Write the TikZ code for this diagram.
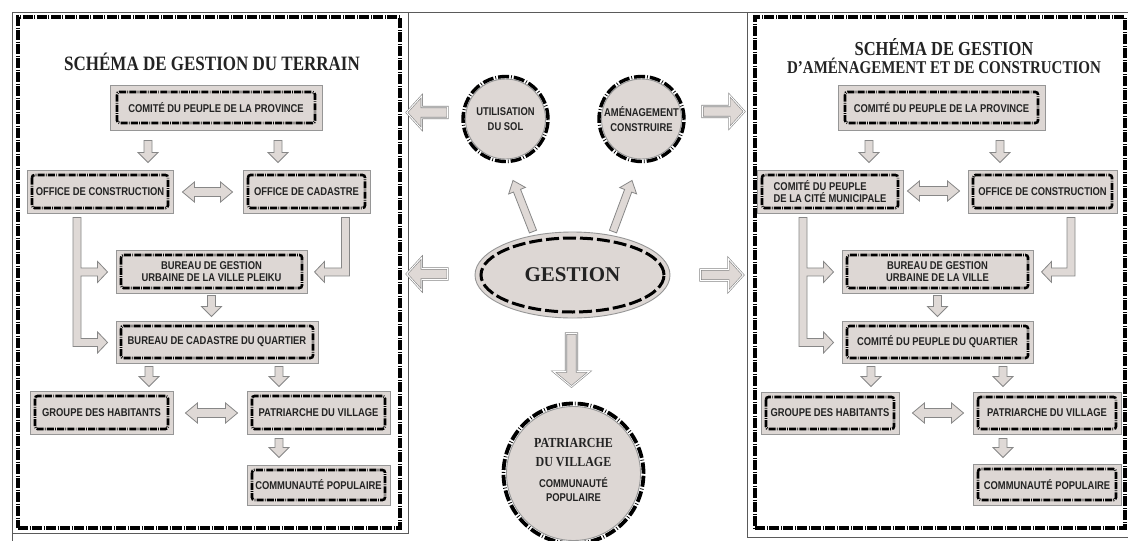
\documentclass[tikz,border=0pt]{standalone}
\usepackage{fontspec}
\setmainfont{Liberation Serif}
\newfontfamily\sansf{Liberation Sans}
\usetikzlibrary{calc,shapes.geometric}
\definecolor{boxfill}{RGB}{221,215,212}
\definecolor{arrfill}{RGB}{223,217,214}
\definecolor{bordgray}{RGB}{150,150,150}
\definecolor{arrgray}{RGB}{135,135,135}
\definecolor{txt}{RGB}{35,35,35}
\definecolor{linegray}{RGB}{90,90,90}
\newcommand\vs[1]{\scalebox{1}[1.2]{#1}}
\newcommand\vt[1]{\scalebox{1}[1.15]{#1}}
\newcommand\bxfont{\sansf\bfseries\fontsize{9.4}{11.5}\selectfont}
\tikzset{
  boxinset/.store in=\bxin, boxinset=5pt,
  innerdash/.style={draw=black, line width=2.6pt, dash pattern=on 7pt off 1.3pt on 0.7pt off 1.3pt, rounded corners=2.5pt},
  box/.style={draw=bordgray, line width=0.9pt, fill=boxfill, inner sep=0pt, text=txt, font=\bxfont, align=center,
    path picture={\draw[innerdash] ([shift={(\bxin,-\bxin)}]path picture bounding box.north west) rectangle ([shift={(-\bxin,\bxin)}]path picture bounding box.south east);}},
  frame/.style={draw=black, line width=3.4pt, dash pattern=on 10pt off 1.5pt on 1pt off 1.5pt, inner sep=0pt},
  thinline/.style={draw=linegray, line width=0.9pt},
  ttl/.style={text=txt, font=\bfseries\fontsize{17}{18}\selectfont, align=center, inner sep=0pt},
  circ/.style={circle, draw=bordgray, line width=0.9pt, fill=boxfill, inner sep=0pt, align=center, text=txt, font=\sansf\bfseries\fontsize{9.4}{14.5}\selectfont},
  ring/.style={draw=black, line width=3.4pt, dash pattern=on 11pt off 2pt on 0.8pt off 2pt},
  ellring/.style={draw=black, line width=3pt, dash pattern=on 13pt off 4pt},
  arr/.style={fill=arrfill, draw=arrgray, line width=0.8pt, line join=miter},
  bigarr/.style={fill=arrfill, draw=arrgray, line width=0.6pt, double=white, double distance=0.9pt},
  lbl/.style={text=txt, inner sep=0pt}
}
% single block arrow: [style]{start}{tip}{shaft half}{head half}{head length}
\newcommand\farrow[6][]{%
  \coordinate (fA) at #2;
  \coordinate (fB) at #3;
  \coordinate (fC) at ($(fB)!#6!(fA)$);
  \filldraw[arr,#1] ($(fA)!#4!90:(fB)$) -- ($(fC)!#4!90:(fB)$) -- ($(fC)!#5!90:(fB)$) -- (fB) -- ($(fC)!#5!-90:(fB)$) -- ($(fC)!#4!-90:(fB)$) -- ($(fA)!#4!-90:(fB)$) -- cycle;}
% double block arrow
\newcommand\fdarrow[6][]{%
  \coordinate (fA) at #2;
  \coordinate (fB) at #3;
  \coordinate (fC) at ($(fA)!#6!(fB)$);
  \coordinate (fD) at ($(fB)!#6!(fA)$);
  \filldraw[arr,#1] (fA) -- ($(fC)!#5!90:(fB)$) -- ($(fC)!#4!90:(fB)$) -- ($(fD)!#4!90:(fB)$) -- ($(fD)!#5!90:(fB)$) -- (fB) -- ($(fD)!#5!-90:(fB)$) -- ($(fD)!#4!-90:(fB)$) -- ($(fC)!#4!-90:(fB)$) -- ($(fC)!#5!-90:(fB)$) -- cycle;}
\begin{document}
\begin{tikzpicture}[x=1pt, y=-1pt]
\useasboundingbox (0,0) rectangle (1128,541);
\fill[white] (0,0) rectangle (1128,541);
% thin outer lines
\draw[thinline] (12,541) -- (12,12) -- (1128,12);
\draw[thinline] (12,533) -- (408,533) -- (408,12);
\draw[thinline] (747,12) -- (747,537) -- (1128,537);
% panel frames
\node[frame, minimum width=382pt, minimum height=511pt] (lp) at (209,272.5) {};
\node[frame, minimum width=370pt, minimum height=511pt] (rp) at (940,272.5) {};

% ---------- left panel ----------
\node[ttl] (t1) at (212,62) {\vs{SCHÉMA DE GESTION DU TERRAIN}};
\node[box, boxinset=7pt, minimum width=212pt, minimum height=45pt] (prov1) at (216,107.5) {\vs{COMITÉ DU PEUPLE DE LA PROVINCE}};
\node[box, minimum width=146pt, minimum height=43pt] (oc1) at (100,191.5) {\vs{OFFICE DE CONSTRUCTION}};
\node[box, minimum width=127pt, minimum height=43pt] (ocad1) at (306.5,191.5) {\vs{OFFICE DE CADASTRE}};
\node[box, minimum width=191pt, minimum height=43pt] (bg1) at (211.5,271.5) {\vs{BUREAU DE GESTION}\\\vs{URBAINE DE LA VILLE PLEIKU}};
\node[box, minimum width=202pt, minimum height=42pt] (bc1) at (217,342) {\vs{BUREAU DE CADASTRE DU QUARTIER}};
\node[box, minimum width=143pt, minimum height=43pt] (gh1) at (101.5,412.5) {\vs{GROUPE DES HABITANTS}};
\node[box, minimum width=143pt, minimum height=43pt] (pv1) at (318.5,412.5) {\vs{PATRIARCHE DU VILLAGE}};
\node[box, minimum width=143pt, minimum height=40pt] (cp1) at (318.5,485) {\vs{COMMUNAUTÉ POPULAIRE}};

\farrow{($(prov1.south)+(-68,10)$)}{($(oc1.north)+(48,-7)$)}{4pt}{10pt}{10pt}
\farrow{($(prov1.south)+(62,10)$)}{($(ocad1.north)+(-28.5,-7)$)}{4pt}{10pt}{10pt}
\fdarrow{($(oc1.east)+(9,0.5)$)}{($(ocad1.west)+(-10,0.5)$)}{4.5pt}{10pt}{12pt}
\farrow{($(bg1.south)+(0,2)$)}{($(bc1.north)+(-5.5,-4)$)}{4pt}{10pt}{10pt}
\farrow{($(bc1.south)+(-68,3)$)}{($(gh1.north)+(47.5,-4)$)}{4pt}{10pt}{10pt}
\farrow{($(bc1.south)+(62,3)$)}{($(pv1.north)+(-39.5,-4)$)}{4pt}{10pt}{10pt}
\fdarrow{($(gh1.east)+(12,0.5)$)}{($(pv1.west)+(-9,0.5)$)}{4.5pt}{10pt}{12pt}
\farrow{($(pv1.south)+(-39.5,4)$)}{($(cp1.north)+(-39.5,-7)$)}{4pt}{10pt}{10pt}
% L-shaped arrows
\filldraw[arr] ($(oc1.south west)+(46.5,4)$) -- ++(8,0) -- ++(0,50.5) -- ++(16.5,0) -- ++(0,-6.5) -- ++(10,10.5) -- ++(-10,10.5) -- ++(0,-6.5) -- ++(-16.5,0) -- ++(0,62.5) -- ++(16.5,0) -- ++(0,-6.5) -- ++(10,10.5) -- ++(-10,10.5) -- ++(0,-6.5) -- ++(-24.5,0) -- cycle;
\filldraw[arr] ($(ocad1.south west)+(99,4)$) -- ++(8,0) -- ++(0,58.5) -- ++(-25,0) -- ++(0,6.5) -- ++(-10,-10.5) -- ++(10,-10.5) -- ++(0,6.5) -- ++(17,0) -- cycle;

% ---------- right panel ----------
\node[ttl] (t2) at (944,56) {\fontsize{16.5}{18}\selectfont\vs{SCHÉMA DE GESTION}\\\fontsize{15}{18}\selectfont\vs{D'AMÉNAGEMENT ET DE CONSTRUCTION}};
\node[box, boxinset=7pt, minimum width=207pt, minimum height=45pt] (prov2) at (941.5,107.5) {\vs{COMITÉ DU PEUPLE DE LA PROVINCE}};
\node[box, minimum width=146pt, minimum height=43pt, align=left] (cm2) at (830,191.5) {\vs{COMITÉ DU PEUPLE}\\\vs{DE LA CITÉ MUNICIPALE}};
\node[box, minimum width=149pt, minimum height=43pt] (oc2) at (1042.5,191.5) {\vs{OFFICE DE CONSTRUCTION}};
\node[box, minimum width=191pt, minimum height=43pt] (bg2) at (937.5,271.5) {\vs{BUREAU DE GESTION}\\\vs{URBAINE DE LA VILLE}};
\node[box, minimum width=191pt, minimum height=42pt] (cq2) at (937.5,342) {\vs{COMITÉ DU PEUPLE DU QUARTIER}};
\node[box, minimum width=138pt, minimum height=42pt] (gh2) at (830,413) {\vs{GROUPE DES HABITANTS}};
\node[box, minimum width=148pt, minimum height=42pt] (pv2) at (1047,413) {\vs{PATRIARCHE DU VILLAGE}};
\node[box, minimum width=148pt, minimum height=41pt] (cp2) at (1047,484.5) {\vs{COMMUNAUTÉ POPULAIRE}};

\farrow{($(prov2.south)+(-72.5,10)$)}{($(cm2.north)+(39,-7)$)}{4pt}{10pt}{10pt}
\farrow{($(prov2.south)+(58.5,10)$)}{($(oc2.north)+(-42.5,-7)$)}{4pt}{10pt}{10pt}
\fdarrow{($(cm2.east)+(4,-0.5)$)}{($(oc2.west)+(-8,-0.5)$)}{4.5pt}{10pt}{12pt}
\farrow{($(bg2.south)+(0,2)$)}{($(cq2.north)+(0,-4)$)}{4pt}{10pt}{10pt}
\farrow{($(cq2.south)+(-66.5,3)$)}{($(gh2.north)+(41,-5)$)}{4pt}{10pt}{10pt}
\farrow{($(cq2.south)+(65.5,3)$)}{($(pv2.north)+(-44,-5)$)}{4pt}{10pt}{10pt}
\fdarrow{($(gh2.east)+(13,0)$)}{($(pv2.west)+(-9,0)$)}{4.5pt}{10pt}{12pt}
\farrow{($(pv2.south)+(-44,4)$)}{($(cp2.north)+(-44,-6)$)}{4pt}{10pt}{10pt}
\filldraw[arr] ($(cm2.south west)+(42.5,4)$) -- ++(8,0) -- ++(0,50.5) -- ++(16.5,0) -- ++(0,-6.5) -- ++(10,10.5) -- ++(-10,10.5) -- ++(0,-6.5) -- ++(-16.5,0) -- ++(0,62.5) -- ++(16.5,0) -- ++(0,-6.5) -- ++(10,10.5) -- ++(-10,10.5) -- ++(0,-6.5) -- ++(-24.5,0) -- cycle;
\filldraw[arr] ($(oc2.south west)+(99.5,4)$) -- ++(8,0) -- ++(0,58.5) -- ++(-23.5,0) -- ++(0,6.5) -- ++(-10,-10.5) -- ++(10,-10.5) -- ++(0,6.5) -- ++(15.5,0) -- cycle;

% ---------- centre ----------
\node[circ, minimum size=80pt] (util) at (505.5,119) {\vs{UTILISATION}\\\vs{DU SOL}};
\draw[ring] (util.center) circle[radius=42.5pt];
\node[circ, minimum size=80pt] (amen) at (641.5,119) {\vs{AMÉNAGEMENT}\\\vs{CONSTRUIRE}};
\draw[ring] (amen.center) circle[radius=42.5pt];
\node[ellipse, draw=bordgray, line width=0.9pt, fill=boxfill, minimum width=195pt, minimum height=86pt, inner sep=0pt, text=txt, font=\bfseries\fontsize{21}{24}\selectfont] (gest) at (572.5,275) {GESTION};
\draw[ellring] (gest.center) ellipse[x radius=91.5pt, y radius=37pt];
\node[circ, minimum size=134pt] (patr) at (573.5,473.5) {};
\draw[ring, line width=3.8pt] (patr.center) circle[radius=70pt];
\node[lbl, font=\bfseries\fontsize{12}{14}\selectfont] (pl1) at ($(patr.center)+(0,-30.5)$) {\vt{PATRIARCHE}};
\node[lbl, font=\bfseries\fontsize{12}{14}\selectfont] (pl2) at ($(patr.center)+(0,-11.5)$) {\vt{DU VILLAGE}};
\node[lbl, font=\sansf\bfseries\fontsize{9.4}{11}\selectfont] (pl3) at ($(patr.center)+(0,9.5)$) {\vs{COMMUNAUTÉ}};
\node[lbl, font=\sansf\bfseries\fontsize{9.4}{11}\selectfont] (pl4) at ($(patr.center)+(0,24.5)$) {\vs{POPULAIRE}};

\farrow[bigarr]{($(util.west)+(-17.5,-6.5)$)}{($(lp.east |- util.center)+(5,-6.5)$)}{5.5pt}{16.5pt}{15pt}
\farrow[bigarr]{($(amen.east)+(20.5,-7.5)$)}{($(rp.west |- amen.center)+(-9,-7.5)$)}{5.5pt}{16.5pt}{15pt}
\farrow[bigarr]{($(gest.west)+(-27,-1)$)}{($(lp.east |- gest.center)+(5,-1)$)}{5.5pt}{16.5pt}{15pt}
\farrow[bigarr]{($(gest.east)+(30,0)$)}{($(rp.west |- gest.center)+(-10,0)$)}{5.5pt}{16.5pt}{15pt}
\farrow[bigarr]{($(gest.south)+(-1,15)$)}{($(patr.north)+(-2,-19.5)$)}{5.5pt}{18pt}{15pt}
\farrow{($(gest.north)+(-39.5,0)$)}{($(util.south)+(7.5,21)$)}{3.8pt}{9pt}{11pt}
\farrow{($(gest.north)+(40.5,0)$)}{($(amen.south)+(-9.5,21)$)}{3.8pt}{9pt}{11pt}
\end{tikzpicture}
\end{document}
